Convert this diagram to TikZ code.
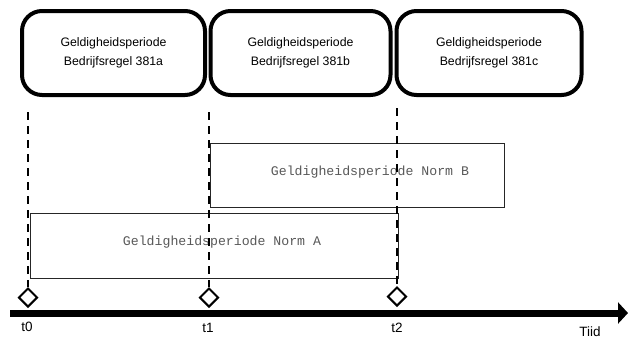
\documentclass[tikz,border=0pt]{standalone}
\usepackage{fontspec}
\setmainfont{Liberation Sans}
\newfontfamily\monofont{Liberation Mono}
\usetikzlibrary{shapes.geometric,arrows.meta}
\begin{document}
\begin{tikzpicture}[x=1pt,y=-1pt,
  rulebox/.style={draw=black,line width=4pt,rounded corners=20pt,fill=white,
    minimum width=#1,minimum height=84pt,inner sep=0pt,align=center,
    font=\fontsize{12.3}{19}\selectfont},
  normbox/.style={draw=black!85,line width=0.8pt,fill=white,anchor=north west,
    inner sep=0pt},
  normtext/.style={font=\monofont\fontsize{13.2}{15}\selectfont,text=black!65},
  marker/.style={draw=black,line width=2pt,fill=white,diamond,
    minimum width=19pt,minimum height=19pt,inner sep=0pt},
  period/.style={line width=2.4pt,dash pattern=on 8pt off 6pt},
  tlabel/.style={font=\fontsize{13.5}{14}\selectfont}]
\useasboundingbox (0,0) rectangle (628,338);

% validity periods of the business rules
\node[rulebox=183pt] (ra) at (113.5,53) {Geldigheidsperiode\\Bedrijfsregel 381a};
\node[rulebox=180pt] (rb) at (300.5,53) {Geldigheidsperiode\\Bedrijfsregel 381b};
\node[rulebox=185pt] (rc) at (489,53) {Geldigheidsperiode\\Bedrijfsregel 381c};

% validity periods of the norms
\node[normbox,minimum width=294pt,minimum height=64.5pt] (nb) at (209.5,142.7) {};
\node[normtext] (nbt) at (370,172) {Geldigheidsperiode Norm B};
\node[normbox,minimum width=368pt,minimum height=65pt] (na) at (29.5,213) {};
\node[normtext] (nat) at (222,242) {Geldigheidsperiode Norm A};

% moments on the time axis
\node[marker] (m0) at (28,297.5) {};
\node[marker] (m1) at (209,297.5) {};
\node[marker] (m2) at (397,296.5) {};

% dashed guide lines
\coordinate (g0) at (28,112);
\coordinate (g1) at (209,112);
\coordinate (g2) at (397,108);
\draw[period] (g0) -- (m0.north);
\draw[period] (g1) -- (m1.north);
\draw[period] (g2) -- (m2.north);

% time axis
\coordinate (ax0) at (10,313);
\coordinate (ax1) at (628,313);
\draw[line width=7pt,-{Triangle[length=10pt,width=21pt]}] (ax0) -- (ax1);

\node[tlabel] (t0) at (27,327) {t0};
\node[tlabel] (t1) at (208,328) {t1};
\node[tlabel] (t2) at (397,328) {t2};
\node[tlabel,anchor=base,inner sep=0pt] (tt) at (590,336.5) {Tiid};
\end{tikzpicture}
\end{document}
